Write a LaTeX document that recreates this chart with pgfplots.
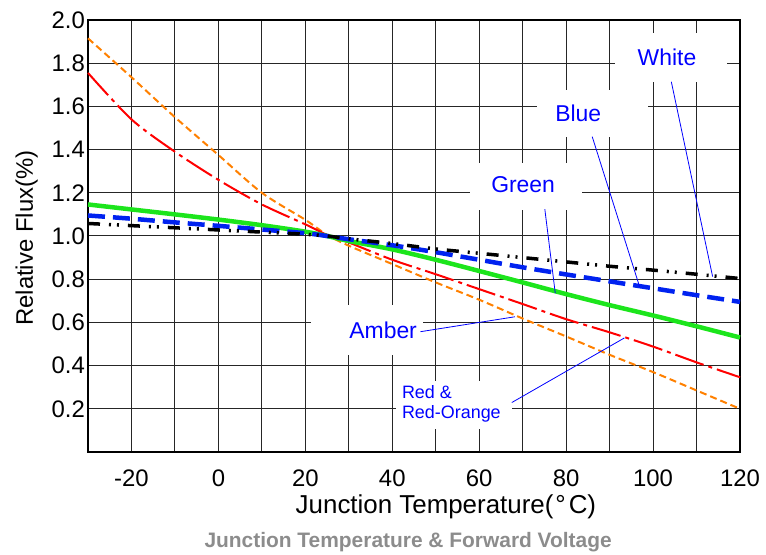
\documentclass[border=0pt]{standalone}
\usepackage{fontspec}
\setmainfont{Liberation Sans}
\usepackage{pgfplots}
\pgfplotsset{compat=1.18}
\definecolor{cOrange}{HTML}{FF8000}
\definecolor{cRed}{HTML}{FF0000}
\definecolor{cGreen}{HTML}{1CE51C}
\definecolor{cBlue}{HTML}{0022F0}
\definecolor{cNote}{HTML}{0000FF}
\definecolor{cTitle}{HTML}{8C8C8C}

\begin{document}
\begin{tikzpicture}
\useasboundingbox (-88bp,-103bp) rectangle (678bp,452bp);
\begin{axis}[
    at={(0,0)}, anchor=south west,
    width=652bp, height=432bp, scale only axis,
    xmin=-30, xmax=120, ymin=0, ymax=2,
    xtick={-20,0,...,120},
    minor xtick={-30,-10,...,110},
    ytick={0.2,0.4,0.6,0.8,1.0,1.2,1.4,1.6,1.8,2.0},
    grid=both,
    major grid style={black!85, line width=1bp},
    minor grid style={black!85, line width=1bp},
    major tick length=0pt, minor tick length=0pt,
    axis line style={black, line width=1.2bp},
    tick label style={font=\fontsize{24}{24}\selectfont},
    /pgf/number format/assume math mode=true,
    yticklabel style={/pgf/number format/.cd, fixed, fixed zerofill, precision=1, /tikz/.cd,
        anchor=east, inner sep=0pt, xshift=-3bp},
    xticklabel style={anchor=center, inner sep=0pt, yshift=-26bp},
    xlabel={Junction Temperature(\kern2bp°\kern3bp C)},
    xlabel style={at={(axis description cs:0.549,-0.1412)}, anchor=base,
        font=\fontsize{26}{26}\selectfont},
    ylabel={Relative Flux(\%)},
    ylabel style={at={(axis description cs:-0.0844,0.495)}, anchor=base,
        font=\fontsize{24}{24}\selectfont},
    clip=false,
]
% label boxes hide the grid
\fill[white] (axis cs:91.2,1.713) rectangle (axis cs:117.0,1.940);
\fill[white] (axis cs:73.3,1.458) rectangle (axis cs:98.8,1.676);
\fill[white] (axis cs:57.9,1.120) rectangle (axis cs:83.6,1.338);
\fill[white] (axis cs:21.3,0.449) rectangle (axis cs:47.1,0.681);
\fill[white] (axis cs:40.9,0.106) rectangle (axis cs:67.5,0.329);

% Amber
\addplot[cOrange, line width=2bp, dash pattern=on 7bp off 4bp, smooth] coordinates {
(-30,1.915) (-20,1.735) (-10,1.55) (0,1.375) (10,1.2) (20,1.075) (25,1.005)
(30,0.955) (40,0.87) (50,0.785) (60,0.705) (70,0.618) (80,0.535)
(90,0.45) (100,0.37) (110,0.285) (120,0.2)};
% Red & Red-Orange
\addplot[cRed, line width=2bp, dash pattern=on 30bp off 5bp on 4bp off 5bp, smooth] coordinates {
(-30,1.755) (-20,1.54) (-10,1.39) (0,1.26) (10,1.146) (20,1.054) (25,1.005)
(30,0.97) (40,0.89) (50,0.823) (60,0.754) (70,0.685) (80,0.615)
(90,0.554) (100,0.488) (110,0.415) (120,0.346)};
% Green
\addplot[cGreen, line width=4.5bp, smooth] coordinates {
(-30,1.146) (-20,1.123) (-10,1.1) (0,1.076) (10,1.05) (20,1.02) (25,1.0)
(30,0.977) (40,0.938) (50,0.89) (60,0.838) (70,0.785) (80,0.731)
(90,0.68) (100,0.632) (110,0.582) (120,0.53)};
% Blue
\addplot[cBlue, line width=4.5bp, dash pattern=on 17bp off 8bp, smooth] coordinates {
(-30,1.095) (-20,1.08) (-10,1.063) (0,1.047) (10,1.03) (20,1.013) (25,1.0)
(30,0.985) (40,0.957) (50,0.925) (60,0.89) (70,0.855) (80,0.822)
(90,0.79) (100,0.758) (110,0.726) (120,0.695)};
% White
\addplot[black, line width=3.5bp, dash pattern=on 12bp off 9bp on 2bp off 6bp on 2bp off 9bp, smooth] coordinates {
(-30,1.058) (-20,1.048) (-10,1.038) (0,1.028) (10,1.018) (20,1.008) (25,1.0)
(30,0.987) (40,0.965) (50,0.94) (60,0.92) (70,0.90) (80,0.88)
(90,0.86) (100,0.842) (110,0.823) (120,0.803)};

% leader lines
\draw[cNote, line width=0.8bp] (axis cs:104.2,1.714) -- (axis cs:113.7,0.812);
\draw[cNote, line width=0.8bp] (axis cs:86.0,1.46) -- (axis cs:96.9,0.765);
\draw[cNote, line width=0.8bp] (axis cs:75.1,1.124) -- (axis cs:77.5,0.735);
\draw[cNote, line width=0.8bp] (axis cs:46.5,0.557) -- (axis cs:68.2,0.626);
\draw[cNote, line width=0.8bp] (axis cs:67.5,0.229) -- (axis cs:93.4,0.528);

% labels
\node[text=cNote, font=\fontsize{23}{23}\selectfont] at (axis cs:103.2,1.829) {White};
\node[text=cNote, font=\fontsize{23}{23}\selectfont] at (axis cs:82.8,1.569) {Blue};
\node[text=cNote, font=\fontsize{23}{23}\selectfont] at (axis cs:70.1,1.236) {Green};
\node[text=cNote, font=\fontsize{23}{23}\selectfont] at (axis cs:37.9,0.5625) {Amber};
\node[text=cNote, font=\fontsize{18}{20}\selectfont, align=left, anchor=west, inner sep=0pt]
    at (axis cs:42.2,0.222) {Red \&\\Red-Orange};

\node[anchor=base, text=cTitle, font=\bfseries\fontsize{21}{22}\selectfont]
    at (rel axis cs:0.491,-0.2211) {Junction Temperature \& Forward Voltage};
\end{axis}
\end{tikzpicture}
\end{document}
